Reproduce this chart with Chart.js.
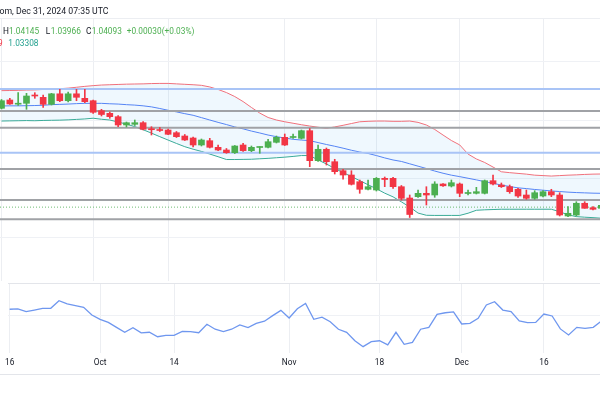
<!DOCTYPE html>
<html><head><meta charset="utf-8">
<script src="https://cdn.jsdelivr.net/npm/chart.js@4.4.1/dist/chart.umd.min.js"></script>
<style>
html,body{margin:0;padding:0;width:600px;height:400px;overflow:hidden;background:#fff;}
canvas{position:absolute;left:0;}
#main{top:0;}
#osc{top:270px;}
.t{position:absolute;white-space:nowrap;line-height:1;font-family:Roboto,sans-serif;font-size:8.3px;}
.hl{position:absolute;left:0;width:600px;height:1px;}
</style></head><body>
<canvas id="main" width="610" height="283"></canvas>
<canvas id="osc" width="610" height="110"></canvas>
<div class="hl" style="top:18px;background:#eceef2"></div>
<div class="hl" style="top:374px;background:#e3e5ea"></div>
<div class="t" style="left:-0.5px;top:6.7px;font-size:8.7px;color:#131722">om, Dec 31, 2024 07:35 UTC</div>
<div class="t" style="left:3px;top:27px;color:#131722">H</div>
<div class="t" style="left:9px;top:27px;color:#4caf50">1.04145</div>
<div class="t" style="left:45.7px;top:27px;color:#131722">L</div>
<div class="t" style="left:50.7px;top:27px;color:#4caf50">1.03966</div>
<div class="t" style="left:86px;top:27px;color:#131722">C</div>
<div class="t" style="left:91.7px;top:27px;color:#4caf50">1.04093</div>
<div class="t" style="left:126.7px;top:27px;color:#4caf50">+0.00030</div>
<div class="t" style="left:161.7px;top:27px;color:#4caf50">(+0.03%)</div>
<div class="t" style="left:-2px;top:38.7px;color:#f23645">9</div>
<div class="t" style="left:8.3px;top:38.7px;color:#22a08e">1.03308</div>
<script>
const dates = [
"2024-09-16","2024-09-17","2024-09-18","2024-09-19","2024-09-20","2024-09-23","2024-09-24","2024-09-25","2024-09-26","2024-09-27","2024-09-30",
"2024-10-01","2024-10-02","2024-10-03","2024-10-04","2024-10-07","2024-10-08","2024-10-09","2024-10-10","2024-10-11","2024-10-14","2024-10-15","2024-10-16","2024-10-17","2024-10-18","2024-10-21","2024-10-22","2024-10-23","2024-10-24","2024-10-25","2024-10-28","2024-10-29","2024-10-30","2024-10-31",
"2024-11-01","2024-11-04","2024-11-05","2024-11-06","2024-11-07","2024-11-08","2024-11-11","2024-11-12","2024-11-13","2024-11-14","2024-11-15","2024-11-18","2024-11-19","2024-11-20","2024-11-21","2024-11-22","2024-11-25","2024-11-26","2024-11-27","2024-11-28","2024-11-29",
"2024-12-02","2024-12-03","2024-12-04","2024-12-05","2024-12-06","2024-12-09","2024-12-10","2024-12-11","2024-12-12","2024-12-13","2024-12-16","2024-12-17","2024-12-18","2024-12-19","2024-12-20","2024-12-23","2024-12-24","2024-12-25"];

const open = [1.10793,1.11356,1.11071,1.11132,1.11675,1.11539,1.11064,1.11776,1.11308,1.11776,
1.11471,1.11308,1.10631,1.10454,1.10224,1.09661,1.09708,1.09817,1.09390,1.09336,
1.09322,1.09139,1.08915,1.08780,1.08305,1.08597,1.08149,1.07966,1.07783,1.08305,
1.07919,1.08136,1.08149,1.08488,1.08827,1.08814,1.08759,1.09275,1.07241,1.08014,
1.07173,1.06563,1.06271,1.05817,1.05302,1.05254,1.06047,1.06047,1.05478,1.04712,
1.04800,1.05030,1.04915,1.05661,1.05525,1.05661,1.05017,1.05030,1.05030,1.05885,
1.05593,1.05478,1.05302,1.04915,1.04692,1.04847,1.05139,1.04915,1.03492,1.03559,
1.04353,1.04054,1.04014];
const high = [1.11390,1.11471,1.11851,1.11810,1.11851,1.11695,1.11810,1.12081,1.11898,1.12081,
1.12081,1.11356,1.10725,1.10542,1.10305,1.09864,1.10000,1.09898,1.09546,1.09492,
1.09390,1.09220,1.09017,1.08847,1.08712,1.08759,1.08305,1.08068,1.08271,1.08420,
1.08237,1.08190,1.08692,1.08915,1.09051,1.09051,1.09322,1.09424,1.08305,1.08102,
1.07336,1.06658,1.06563,1.05932,1.05932,1.06102,1.06136,1.06115,1.05559,1.04915,
1.05254,1.05478,1.05817,1.05695,1.05932,1.05729,1.05254,1.05437,1.05932,1.06271,
1.05729,1.05593,1.05369,1.05254,1.05207,1.05220,1.05302,1.05071,1.04122,1.04461,
1.04461,1.04136,1.04305];
const low = [1.10746,1.11051,1.10983,1.10725,1.11471,1.10861,1.11017,1.11241,1.11220,1.11308,
1.11173,1.10454,1.10271,1.10115,1.09546,1.09525,1.09627,1.09322,1.08983,1.09220,
1.08997,1.08814,1.08610,1.08169,1.08237,1.08102,1.07919,1.07742,1.07729,1.07864,
1.07851,1.07742,1.08102,1.08441,1.08271,1.08759,1.08712,1.06834,1.07186,1.06949,
1.06339,1.05980,1.05593,1.05030,1.05254,1.05186,1.05478,1.05369,1.04576,1.03390,
1.04746,1.04237,1.04759,1.05492,1.05458,1.04800,1.04915,1.04983,1.04983,1.05593,
1.05424,1.05030,1.04759,1.04624,1.04624,1.04780,1.04800,1.03492,1.03444,1.03492,
1.04014,1.03912,1.03932];
const close = [1.11308,1.11085,1.11098,1.11627,1.11627,1.11064,1.11776,1.11308,1.11776,1.11539,
1.11241,1.10522,1.10373,1.10224,1.09661,1.09817,1.09817,1.09369,1.09342,1.09288,
1.09031,1.08868,1.08644,1.08305,1.08644,1.08149,1.07966,1.07783,1.08237,1.07919,
1.08149,1.08163,1.08529,1.08827,1.08305,1.08847,1.09275,1.07241,1.08014,1.07173,
1.06495,1.06271,1.05641,1.05302,1.05478,1.06047,1.05966,1.05478,1.04692,1.03593,
1.05030,1.04915,1.05661,1.05539,1.05749,1.05030,1.05051,1.05139,1.05885,1.05661,
1.05478,1.05139,1.04847,1.04692,1.05071,1.05139,1.04915,1.03559,1.03675,1.04353,
1.04014,1.03946,1.04217];

const bbUpper = [1.1199,1.1200,1.1201,1.1203,1.1204,1.1207,1.1209,1.1212,1.1216,1.1222,
1.1228,1.1233,1.1237,1.1239,1.1241,1.1243,1.1244,1.1245,1.1247,1.1248,
1.1248,1.1245,1.1242,1.1239,1.1235,1.1224,1.1207,1.1186,1.1159,1.1125,
1.1085,1.1047,1.1017,1.1000,1.0988,1.0978,1.0968,1.0959,1.0951,1.0944,
1.0953,1.0964,1.0976,1.0988,1.0991,1.0993,1.0993,1.0991,1.0991,1.0993,
1.0984,1.0966,1.0936,1.0898,1.0861,1.0831,1.0769,1.0736,1.0712,1.0681,
1.0649,1.0643,1.0638,1.0633,1.0626,1.0623,1.0620,1.0623,1.0626,1.0628,
1.0631,1.0633,1.0634];
const bbBasis = [1.1095,1.1096,1.1096,1.1097,1.1098,1.1100,1.1104,1.1106,1.1108,1.1111,
1.1113,1.1113,1.1113,1.1110,1.1108,1.1104,1.1101,1.1096,1.1089,1.1078,
1.1066,1.1055,1.1043,1.1032,1.1016,1.1000,1.0984,1.0969,1.0953,1.0940,
1.0925,1.0912,1.0898,1.0887,1.0878,1.0869,1.0864,1.0860,1.0847,1.0834,
1.0822,1.0809,1.0795,1.0783,1.0773,1.0759,1.0743,1.0729,1.0719,1.0703,
1.0687,1.0671,1.0654,1.0639,1.0626,1.0616,1.0605,1.0594,1.0582,1.0571,
1.0559,1.0549,1.0540,1.0535,1.0529,1.0524,1.0519,1.0515,1.0511,1.0508,
1.0506,1.0504,1.0503];
const bbLower = [1.0993,1.0994,1.0995,1.0996,1.0995,1.0997,1.0998,1.0999,1.1001,1.1004,
1.1007,1.1012,1.1005,1.1000,1.0986,1.0972,1.0955,1.0934,1.0911,1.0887,
1.0864,1.0841,1.0819,1.0802,1.0787,1.0769,1.0751,1.0732,1.0732,1.0733,
1.0734,1.0737,1.0740,1.0744,1.0748,1.0753,1.0759,1.0759,1.0729,1.0702,
1.0671,1.0644,1.0616,1.0589,1.0561,1.0534,1.0504,1.0479,1.0445,1.0410,
1.0369,1.0354,1.0353,1.0353,1.0353,1.0353,1.0368,1.0388,1.0391,1.0393,
1.0395,1.0395,1.0395,1.0395,1.0395,1.0395,1.0395,1.0378,1.0357,1.0345,
1.0341,1.0338,1.0334];

const oscillator = [63.6,63.8,62.1,63.1,64.2,64.2,68.9,66.9,65.8,64.8,
60.0,57.3,55.4,52.3,49.2,52.1,48.8,49.2,46.4,47.3,
47.3,49.8,49.6,48.9,54.2,51.1,49.6,51.1,53.8,52.1,
54.8,56.1,59.6,62.9,58.1,63.9,67.2,57.3,58.6,55.8,
51.1,49.2,43.9,40.2,43.3,43.9,41.3,49.2,41.7,42.9,
51.1,52.3,60.4,61.4,61.9,54.4,54.8,57.9,66.3,68.3,
63.1,62.1,56.3,55.2,55.4,60.6,59.4,51.3,47.5,52.3,
51.7,52.3,56.3];

const blueLevels = [1.1210, 1.0778];
const grayLevels = [1.1061, 1.0947, 1.0668, 1.0458, 1.0327];
const lastPrice = 1.04093;
const priceGrid = [1.02, 1.06, 1.10, 1.14];
const oscGrid = [60, 80];
const tickDates = ["2024-09-16","2024-10-01","2024-10-14","2024-11-01","2024-11-18","2024-12-02","2024-12-16"];
const tickLabels = ["16","Oct","14","Nov","18","Dec","16"];

// ---- view settings ----
const XMIN = -0.18, XMAX = 73.04;
const YMIN = 0.990847, YMAX = 1.169153;
const UP = '#4caf50', DN = '#f23645';

const idx = dates.map((d, i) => i);
const tickIdx = tickDates.map(d => dates.indexOf(d));
const candleCol = idx.map(i => close[i] >= open[i] ? UP : DN);
const flat = v => [{x: XMIN, y: v}, {x: XMAX, y: v}];

const levelSets = [];
blueLevels.forEach(v => levelSets.push({type:'line', data: flat(v), borderColor:'#a9c4f6', borderWidth:2, pointRadius:0, order:3}));
grayLevels.forEach(v => levelSets.push({type:'line', data: flat(v), borderColor:'#a0a2a6', borderWidth:2, pointRadius:0, order:3}));
levelSets.push({type:'line', data: flat(lastPrice), borderColor:'#6dbb70', borderWidth:1, borderDash:[1,2], pointRadius:0, order:3});

const datasets = [
  {type:'bar', data: idx.map(i => ({x:i, y:[open[i], close[i]]})), backgroundColor: candleCol, barThickness:6, minBarLength:1, grouped:false, borderWidth:0, order:0},
  {type:'bar', data: idx.map(i => ({x:i, y:[low[i], high[i]]})), backgroundColor: candleCol, barThickness:1, grouped:false, borderWidth:0, order:1},
  ...levelSets,
  {type:'line', data: idx.map(i => ({x:i, y:bbBasis[i]})), borderColor:'#5584f4', borderWidth:1, pointRadius:0, order:5},
  {type:'line', data: idx.map(i => ({x:i, y:bbLower[i]})), borderColor:'#3aab98', borderWidth:1, pointRadius:0, order:5},
];
const lowerIndex = datasets.length - 1;
datasets.push({type:'line', data: idx.map(i => ({x:i, y:bbUpper[i]})), borderColor:'#f0707b', borderWidth:1, pointRadius:0, order:5,
  fill:{target: lowerIndex}, backgroundColor:'rgba(33,150,243,0.07)'});

Chart.defaults.font.family = 'Roboto';
const common = {
  responsive:false, animation:false, events:[],
  plugins:{legend:{display:false}, tooltip:{enabled:false}, filler:{drawTime:'beforeDatasetsDraw'}},
};

new Chart(document.getElementById('main'), {
  type:'bar',
  data:{datasets},
  options:{...common,
    layout:{padding:{top:18, bottom:2, left:0, right:0}, autoPadding:false},
    scales:{
      x:{type:'linear', offset:false, min:XMIN, max:XMAX, afterFit:s=>{s.height=0;},
         afterBuildTicks:s=>{s.ticks = tickIdx.map(v=>({value:v}));},
         ticks:{display:false}, grid:{color:'#eceef2', drawTicks:false, offset:false}, border:{display:false}},
      y:{type:'linear', min:YMIN, max:YMAX, afterFit:s=>{s.width=0;},
         afterBuildTicks:s=>{s.ticks = priceGrid.map(v=>({value:v}));},
         ticks:{display:false}, grid:{color:'#eff1f5', drawTicks:false}, border:{display:false}}
    }
  }
});

new Chart(document.getElementById('osc'), {
  type:'line',
  data:{datasets:[{data: idx.map(i => ({x:i, y:oscillator[i]})), borderColor:'#6f97ef', borderWidth:1.3, pointRadius:0, tension:0}]},
  options:{...common,
    layout:{padding:{top:13, bottom:0, left:0, right:0}, autoPadding:false},
    scales:{
      x:{type:'linear', offset:false, min:XMIN, max:XMAX, afterFit:s=>{s.height=27;},
         afterBuildTicks:s=>{s.ticks = tickIdx.map(v=>({value:v}));},
         ticks:{display:true, autoSkip:false, maxRotation:0, minRotation:0, padding:5, color:'#131722', font:{size:8.3},
                callback:(v, i) => tickLabels[i]},
         grid:{color:'#eceef2', drawTicks:false}, border:{display:false}},
      y:{type:'linear', min:36.25, max:80, afterFit:s=>{s.width=0;},
         afterBuildTicks:s=>{s.ticks = oscGrid.map(v=>({value:v}));},
         ticks:{display:false},
         grid:{color:c => c.tick && c.tick.value === 80 ? '#e3e5ea' : '#eff1f5', drawTicks:false}, border:{display:false}}
    }
  }
});
</script>
</body></html>
